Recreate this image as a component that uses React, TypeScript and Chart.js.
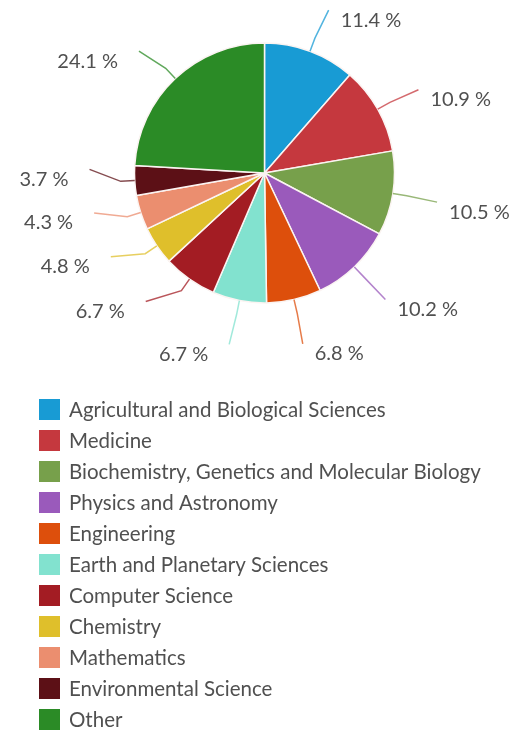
import React, { useEffect, useRef } from "react";
import { Chart, registerables } from "chart.js";

Chart.register(...registerables);

const categories = [
  "Agricultural and Biological Sciences",
  "Medicine",
  "Biochemistry, Genetics and Molecular Biology",
  "Physics and Astronomy",
  "Engineering",
  "Earth and Planetary Sciences",
  "Computer Science",
  "Chemistry",
  "Mathematics",
  "Environmental Science",
  "Other",
];
const shares = [11.4, 10.9, 10.5, 10.2, 6.8, 6.7, 6.7, 4.8, 4.3, 3.7, 24.1];
const sliceColors = [
  "#189bd4",
  "#c5383e",
  "#77a04b",
  "#9a5abb",
  "#dd4f0c",
  "#82e2cf",
  "#a31c23",
  "#dfbf2b",
  "#eb8e6f",
  "#5c1016",
  "#2b8b26",
];
// manual angular nudge (degrees) of each outside label, as dragged in the original
const labelNudgeDeg = [1, 1, 0.5, 0, 0.5, 0.5, 7.5, 5.5, 4.5, 4.5, -2.5];

const FONT = "Lato, 'Open Sans', sans-serif";
const TEXT_COLOR = "#505050";

const labelPlugin = {
  id: "outsideLabels",
  afterDatasetsDraw(chart: any) {
    const ctx = chart.ctx;
    const meta = chart.getDatasetMeta(0);
    ctx.save();
    meta.data.forEach((arc: any, i: number) => {
      const { x, y, startAngle, endAngle, outerRadius } = arc.getProps(
        ["x", "y", "startAngle", "endAngle", "outerRadius"],
        true
      );
      const mid = (startAngle + endAngle) / 2;
      const lab = mid + (labelNudgeDeg[i] * Math.PI) / 180;
      const x1 = x + outerRadius * Math.cos(mid);
      const y1 = y + outerRadius * Math.sin(mid);
      const xm = x + (outerRadius + 14) * Math.cos(mid);
      const ym = y + (outerRadius + 14) * Math.sin(mid);
      const x2 = x + (outerRadius + 45) * Math.cos(lab);
      const y2 = y + (outerRadius + 45) * Math.sin(lab);
      ctx.strokeStyle = sliceColors[i];
      ctx.globalAlpha = 0.75;
      ctx.lineWidth = 1.5;
      ctx.beginPath();
      ctx.moveTo(x1, y1);
      ctx.lineTo(xm, ym);
      ctx.lineTo(x2, y2);
      ctx.stroke();
      ctx.globalAlpha = 1;
      ctx.fillStyle = TEXT_COLOR;
      ctx.font = `20px ${FONT}`;
      ctx.textBaseline = "middle";
      const txt = shares[i].toFixed(1) + " %";
      if (Math.cos(lab) >= 0) {
        ctx.textAlign = "left";
        ctx.fillText(txt, x2 + 12, y2 + 10);
      } else {
        ctx.textAlign = "right";
        ctx.fillText(txt, x2 - 21, y2 + 10);
      }
    });
    ctx.restore();
  },
};

const legendPlugin = {
  id: "columnLegend",
  afterDraw(chart: any) {
    const ctx = chart.ctx;
    ctx.save();
    const left = 39;
    const top = 399;
    const box = 21;
    const step = 31;
    categories.forEach((name, i) => {
      const yy = top + i * step;
      ctx.fillStyle = sliceColors[i];
      ctx.fillRect(left, yy, box, box);
      ctx.fillStyle = TEXT_COLOR;
      ctx.font = `20.5px ${FONT}`;
      ctx.textAlign = "left";
      ctx.textBaseline = "middle";
      ctx.fillText(name, 69, yy + box / 2 + 1);
    });
    ctx.restore();
  },
};

export default function App() {
  const ref = useRef<HTMLCanvasElement | null>(null);
  useEffect(() => {
    if (!ref.current) return;
    const chart = new Chart(ref.current, {
      type: "pie",
      data: {
        labels: categories,
        datasets: [
          {
            data: shares,
            backgroundColor: sliceColors,
            borderColor: "#fbf4f2",
            borderWidth: 1.5,
            radius: 130,
          },
        ],
      },
      options: {
        animation: false,
        responsive: true,
        maintainAspectRatio: false,
        layout: { padding: { left: 133, right: 117, top: 43, bottom: 430 } },
        plugins: {
          legend: { display: false },
          tooltip: { enabled: false },
        },
      },
      plugins: [labelPlugin, legendPlugin],
    });
    return () => chart.destroy();
  }, []);
  return (
    <div style={{ position: "absolute", left: 0, top: 0, width: 513, height: 733, background: "#fff" }}>
      <canvas ref={ref} />
    </div>
  );
}
